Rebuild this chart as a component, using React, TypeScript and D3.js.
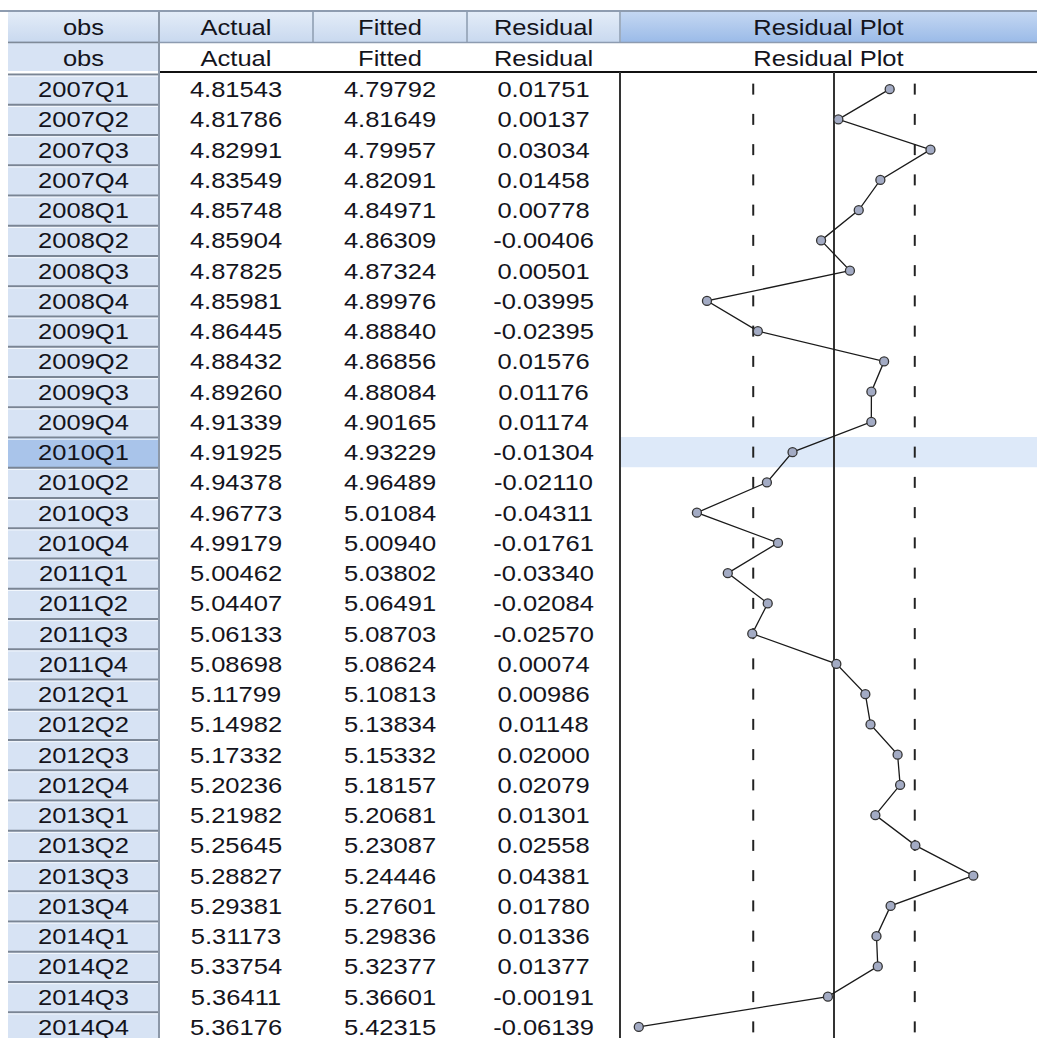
import * as d3 from 'd3';

const obs = ['2007Q1', '2007Q2', '2007Q3', '2007Q4', '2008Q1', '2008Q2', '2008Q3', '2008Q4',
  '2009Q1', '2009Q2', '2009Q3', '2009Q4', '2010Q1', '2010Q2', '2010Q3', '2010Q4',
  '2011Q1', '2011Q2', '2011Q3', '2011Q4', '2012Q1', '2012Q2', '2012Q3', '2012Q4',
  '2013Q1', '2013Q2', '2013Q3', '2013Q4', '2014Q1', '2014Q2', '2014Q3', '2014Q4'];
const actual = ['4.81543', '4.81786', '4.82991', '4.83549', '4.85748', '4.85904', '4.87825', '4.85981',
  '4.86445', '4.88432', '4.89260', '4.91339', '4.91925', '4.94378', '4.96773', '4.99179',
  '5.00462', '5.04407', '5.06133', '5.08698', '5.11799', '5.14982', '5.17332', '5.20236',
  '5.21982', '5.25645', '5.28827', '5.29381', '5.31173', '5.33754', '5.36411', '5.36176'];
const fitted = ['4.79792', '4.81649', '4.79957', '4.82091', '4.84971', '4.86309', '4.87324', '4.89976',
  '4.88840', '4.86856', '4.88084', '4.90165', '4.93229', '4.96489', '5.01084', '5.00940',
  '5.03802', '5.06491', '5.08703', '5.08624', '5.10813', '5.13834', '5.15332', '5.18157',
  '5.20681', '5.23087', '5.24446', '5.27601', '5.29836', '5.32377', '5.36601', '5.42315'];
const residual = [0.01751, 0.00137, 0.03034, 0.01458, 0.00778, -0.00406, 0.00501, -0.03995,
  -0.02395, 0.01576, 0.01176, 0.01174, -0.01304, -0.02110, -0.04311, -0.01761,
  -0.03340, -0.02084, -0.02570, 0.00074, 0.00986, 0.01148, 0.02000, 0.02079,
  0.01301, 0.02558, 0.04381, 0.01780, 0.01336, 0.01377, -0.00191, -0.06139];
const headers = ['obs', 'Actual', 'Fitted', 'Residual', 'Residual Plot'];
const bandValue = 0.0254; // +/- 2 s.e. dashed guides
const selectedRow = '2010Q1';

const W = 1037;
const H = 1038;
const colEdges = [8, 159, 313, 467, 620, W];
const head1 = [12, 42];
const head2 = [43, 71];
const FS = 22;
const SX = 1.16;

const fmt = (v: number) => v.toFixed(5);

function Txt({ x, y, s }: { x: number; y: number; s: string }) {
  return (
    <text transform={`translate(${x},${y + FS * 0.36}) scale(${SX},1)`} textAnchor="middle"
      fontFamily="'Liberation Sans', Arial, sans-serif" fontSize={FS} fill="#14141c">{s}</text>
  );
}

export default function App() {
  const y = d3.scaleBand<string>().domain(obs).range([74, 74 + obs.length * 30.25]);
  const x = d3.scaleLinear().domain([-0.0675, 0.0675]).range([834 - 214.65, 834 + 214.65]);
  const cx = (i: number) => (colEdges[i] + colEdges[i + 1]) / 2;
  const bw = y.bandwidth();
  const mid = (o: string) => (y(o) as number) + bw / 2;
  const line = d3.line<number>().x(d => x(d)).y((_, i) => mid(obs[i]));

  return (
    <svg width={W} height={H} style={{ position: 'absolute', left: 0, top: 0, background: '#fff' }}>
      <defs>
        <linearGradient id="hdr" x1="0" y1="0" x2="0" y2="1">
          <stop offset="0" stopColor="#e3ecf8" />
          <stop offset="1" stopColor="#c9d9ef" />
        </linearGradient>
        <linearGradient id="hdrSel" x1="0" y1="0" x2="0" y2="1">
          <stop offset="0" stopColor="#c4d7f2" />
          <stop offset="1" stopColor="#9bbbe8" />
        </linearGradient>
      </defs>

      {/* top strip */}
      <line x1={0} x2={W} y1={11} y2={11} stroke="#8e9cb0" strokeWidth={2} />

      {/* header row 1 */}
      {headers.map((h, i) => (
        <g key={'h1' + h}>
          <rect x={colEdges[i]} y={head1[0]} width={colEdges[i + 1] - colEdges[i]} height={head1[1] - head1[0]}
            fill={i === 4 ? 'url(#hdrSel)' : 'url(#hdr)'} />
          <Txt x={cx(i)} y={(head1[0] + head1[1]) / 2} s={h} />
        </g>
      ))}
      {colEdges.slice(1, 5).map(e => (
        <line key={'vs' + e} x1={e} x2={e} y1={head1[0]} y2={head1[1]} stroke="#9eadc0" strokeWidth={2} />
      ))}
      <line x1={8} x2={W} y1={42.5} y2={42.5} stroke="#8d9bb0" strokeWidth={1.5} />

      {/* header row 2 */}
      <rect x={colEdges[0]} y={head2[0]} width={colEdges[1] - colEdges[0]} height={head2[1] - head2[0]} fill="#d7e3f4" />
      {headers.map((h, i) => (
        <Txt key={'h2' + h} x={cx(i)} y={(head2[0] + head2[1]) / 2 + 1} s={h} />
      ))}
      <line x1={colEdges[1]} x2={W} y1={72} y2={72} stroke="#111" strokeWidth={2} />

      {/* selected row band in plot column */}
      <rect x={colEdges[4] + 1} y={y(selectedRow)} width={W - colEdges[4]} height={bw} fill="#dde9f9" />

      {/* obs column cells */}
      {obs.map(o => (
        <g key={'c' + o}>
          <rect x={colEdges[0]} y={y(o)} width={colEdges[1] - colEdges[0]} height={bw}
            fill={o === selectedRow ? '#a9c4ea' : '#d7e3f4'} />
          <line x1={colEdges[0]} x2={colEdges[1]} y1={(y(o) as number) + 0.5} y2={(y(o) as number) + 0.5}
            stroke="#7a8594" strokeWidth={2} />
          <line x1={colEdges[0]} x2={colEdges[1]} y1={(y(o) as number) + 2.2} y2={(y(o) as number) + 2.2}
            stroke="#f4f8fd" strokeWidth={1} />
        </g>
      ))}
      <line x1={colEdges[0]} x2={colEdges[1]} y1={42.5} y2={42.5} stroke="#7f8a98" strokeWidth={1.5} />
      <line x1={colEdges[1]} x2={colEdges[1]} y1={head1[0]} y2={H} stroke="#8c98a8" strokeWidth={2} />

      {/* table values */}
      {obs.map((o, i) => (
        <g key={'r' + o}>
          <Txt x={cx(0)} y={mid(o)} s={o} />
          <Txt x={cx(1)} y={mid(o)} s={actual[i]} />
          <Txt x={cx(2)} y={mid(o)} s={fitted[i]} />
          <Txt x={cx(3)} y={mid(o)} s={fmt(residual[i])} />
        </g>
      ))}

      {/* residual plot */}
      <line x1={colEdges[4]} x2={colEdges[4]} y1={72} y2={H} stroke="#333" strokeWidth={2} />
      <line x1={x(0)} x2={x(0)} y1={72} y2={H} stroke="#333" strokeWidth={2} />
      {obs.map(o => [-bandValue, bandValue].map(b => (
        <line key={'d' + o + b} x1={x(b)} x2={x(b)} y1={mid(o) - 5.5} y2={mid(o) + 5.5}
          stroke="#222" strokeWidth={2} />
      )))}
      <path d={line(residual) ?? ''} fill="none" stroke="#1a1a1a" strokeWidth={1.3} />
      {residual.map((r, i) => (
        <circle key={'p' + i} cx={x(r)} cy={mid(obs[i])} r={4.5} fill="#a3abc4" stroke="#333" strokeWidth={1.3} />
      ))}
    </svg>
  );
}
